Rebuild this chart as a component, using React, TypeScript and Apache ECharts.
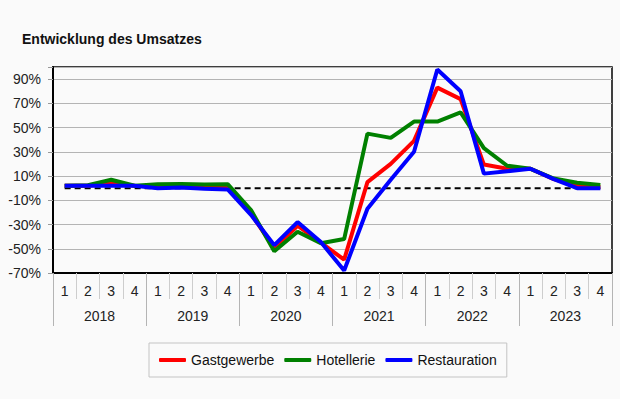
import React, { useEffect, useRef } from "react";
import * as echarts from "echarts";

const quarters = ["1","2","3","4","1","2","3","4","1","2","3","4","1","2","3","4","1","2","3","4","1","2","3","4"];
const years = ["2018", "2019", "2020", "2021", "2022", "2023"];

const gastgewerbe = [2, 2, 4, 2, 1.5, 2, 1.5, 1, -21, -49.5, -31, -45, -59, 5, 20, 39, 83, 73.5, 19.5, 16, 16, 7.5, 2, 1];
const hotellerie = [2, 2.5, 7, 2, 3.3, 3.5, 3, 3.3, -18, -52, -36, -45.5, -42, 45, 41.5, 55, 55, 62.5, 33, 18.5, 16, 8, 4.5, 2.7];
const restauration = [2, 2, 2, 2, 0, 0.5, -0.5, -1, -22, -47, -28, -44.5, -68, -17, 7, 30, 98, 80, 12, 14, 16, 7.5, 0, 0];
const zeroLine = quarters.map(() => 0);

const FONT = "Liberation Sans, Arial, sans-serif";

export default function App() {
  const ref = useRef<HTMLDivElement>(null);
  useEffect(() => {
    document.body.style.margin = "0";
    document.body.style.background = "#fafafa";
    const chart = echarts.init(ref.current!, null, { renderer: "svg" });
    chart.setOption({
      animation: false,
      backgroundColor: "#fafafa",
      textStyle: { fontFamily: FONT },
      title: {
        text: "Entwicklung des Umsatzes",
        left: 22,
        top: 32,
        padding: 0,
        textStyle: { fontSize: 14, fontWeight: "bold", color: "#111", fontFamily: FONT },
      },
      grid: {
        left: 53,
        right: 8,
        top: 67,
        bottom: 126,
        show: true,
        borderColor: "#000",
        borderWidth: 1.5,
        backgroundColor: "transparent",
      },
      legend: {
        data: ["Gastgewerbe", "Hotellerie", "Restauration"],
        left: 149,
        top: 343,
        icon: "roundRect",
        itemWidth: 27,
        itemHeight: 4,
        itemGap: 10,
        padding: [10, 10, 10, 10],
        borderColor: "#c4c4c4",
        borderWidth: 1,
        textStyle: { fontSize: 14, color: "#111", fontFamily: FONT },
      },
      xAxis: [
        {
          type: "category",
          data: quarters,
          position: "bottom",
          boundaryGap: true,
          axisLine: { show: true, onZero: false, lineStyle: { color: "#000", width: 2 } },
          axisTick: { show: true, length: 26, interval: 0, lineStyle: { color: "#cdcdcd", width: 1 } },
          axisLabel: { interval: 0, margin: 11, fontSize: 14, color: "#222", fontFamily: FONT },
          splitLine: { show: false },
        },
        {
          type: "category",
          data: years,
          position: "bottom",
          boundaryGap: true,
          axisLine: { show: false, onZero: false },
          axisTick: { show: true, length: 53, interval: 0, lineStyle: { color: "#b4b4b4", width: 1 } },
          axisLabel: { interval: 0, margin: 36, fontSize: 14, color: "#222", fontFamily: FONT },
          splitLine: { show: false },
        },
      ],
      yAxis: {
        type: "value",
        min: -70,
        max: 100,
        interval: 20,
        axisLine: { show: true, lineStyle: { color: "#000", width: 2 } },
        axisTick: { show: true, length: 5, lineStyle: { color: "#999" } },
        axisLabel: {
          margin: 12,
          fontSize: 14,
          color: "#222",
          fontFamily: FONT,
          formatter: (v: number) => (v >= 100 ? "" : v + "%"),
        },
        splitLine: { show: true, lineStyle: { color: "#b4b4b4", width: 1 } },
      },
      series: [
        {
          name: "Null",
          type: "line",
          data: zeroLine,
          symbol: "none",
          silent: true,
          lineStyle: { color: "#000", width: 2, type: [6, 4] },
          itemStyle: { color: "#000" },
          z: 1,
        },
        {
          name: "Gastgewerbe",
          type: "line",
          data: gastgewerbe,
          symbol: "none",
          lineStyle: { color: "#ff0000", width: 4 },
          itemStyle: { color: "#ff0000" },
          z: 2,
        },
        {
          name: "Hotellerie",
          type: "line",
          data: hotellerie,
          symbol: "none",
          lineStyle: { color: "#008000", width: 4 },
          itemStyle: { color: "#008000" },
          z: 3,
        },
        {
          name: "Restauration",
          type: "line",
          data: restauration,
          symbol: "none",
          lineStyle: { color: "#0000ff", width: 4 },
          itemStyle: { color: "#0000ff" },
          z: 4,
        },
      ],
    });
    return () => chart.dispose();
  }, []);
  return <div ref={ref} style={{ width: 620, height: 399 }} />;
}
